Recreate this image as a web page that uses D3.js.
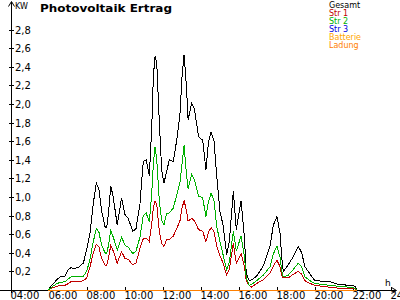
<!DOCTYPE html>
<html><head><meta charset="utf-8">
<script src="https://cdn.jsdelivr.net/npm/d3@7"></script>
<style>
html,body{margin:0;padding:0;background:#fff;}
svg{display:block;}
text{font-family:"DejaVu Sans",sans-serif;}
</style></head>
<body>
<svg id="c" width="400" height="300"></svg>
<script>
// time in decimal hours
const times = [5.96,6.14,6.41,6.58,6.84,7.02,7.16,7.37,7.59,7.81,7.98,8.16,8.33,8.49,8.63,8.77,8.95,9.03,9.12,9.25,9.38,9.59,9.82,10.00,10.17,10.41,10.58,10.79,10.96,11.11,11.28,11.41,11.49,11.58,11.67,11.81,11.93,12.05,12.19,12.33,12.54,12.72,12.89,13.00,13.11,13.23,13.32,13.51,13.66,13.87,14.09,14.26,14.39,14.53,14.68,14.83,15.00,15.16,15.35,15.49,15.70,15.86,16.11,16.29,16.38,16.54,16.67,16.93,17.28,17.63,17.81,18.00,18.16,18.25,18.33,18.59,18.86,19.12,19.30,19.47,19.74,20.00,20.79,21.21,21.84,22.11,22.20];
const gesamt = [0.00,0.05,0.11,0.14,0.15,0.22,0.24,0.23,0.25,0.29,0.43,0.61,0.93,1.15,1.08,0.85,0.68,0.67,0.80,1.12,1.00,0.70,0.99,0.81,0.77,0.63,0.66,0.93,1.38,1.40,1.23,1.76,2.29,2.51,2.45,1.79,1.29,1.15,1.27,1.40,1.38,1.61,1.88,2.29,2.53,2.20,1.83,2.01,1.94,1.65,1.61,1.29,1.59,1.70,1.61,1.22,0.84,0.70,0.38,0.52,1.06,0.65,0.96,0.55,0.18,0.10,0.11,0.15,0.26,0.47,0.70,0.79,0.61,0.35,0.20,0.27,0.36,0.47,0.40,0.25,0.17,0.10,0.09,0.06,0.05,0.04,0.00];
const str2 = [0.00,0.03,0.07,0.08,0.09,0.12,0.14,0.14,0.14,0.15,0.20,0.33,0.52,0.66,0.62,0.48,0.40,0.39,0.47,0.64,0.57,0.43,0.57,0.48,0.46,0.39,0.42,0.57,0.80,0.83,0.73,1.05,1.35,1.54,1.40,0.95,0.75,0.70,0.82,0.83,0.88,1.02,1.15,1.35,1.56,1.25,1.09,1.24,1.18,1.01,0.99,0.79,0.95,1.04,0.97,0.68,0.52,0.38,0.22,0.30,0.63,0.42,0.58,0.36,0.13,0.05,0.06,0.10,0.16,0.25,0.39,0.47,0.35,0.20,0.14,0.16,0.22,0.29,0.25,0.14,0.10,0.07,0.05,0.04,0.03,0.02,0.00];
const str1 = [0.00,0.02,0.04,0.05,0.05,0.07,0.09,0.09,0.09,0.10,0.13,0.25,0.40,0.49,0.46,0.34,0.27,0.26,0.33,0.48,0.42,0.29,0.41,0.34,0.33,0.27,0.29,0.45,0.55,0.56,0.52,0.72,0.88,0.96,0.92,0.62,0.50,0.47,0.54,0.54,0.58,0.66,0.74,0.88,0.96,0.86,0.74,0.77,0.74,0.65,0.63,0.52,0.62,0.67,0.63,0.47,0.37,0.29,0.16,0.22,0.50,0.29,0.39,0.25,0.10,0.05,0.03,0.07,0.11,0.18,0.26,0.32,0.25,0.16,0.13,0.13,0.17,0.20,0.17,0.10,0.07,0.05,0.03,0.02,0.02,0.01,0.00];
const str3 = times.map(() => 0);
const batterie = times.map(() => 0);
const ladung = times.map(() => 0);
const yTicks = [0.2,0.4,0.6,0.8,1.0,1.2,1.4,1.6,1.8,2.0,2.2,2.4,2.6,2.8];
const xTicks = [4,6,8,10,12,14,16,18,20,22,24];
const legendNames = ["Gesamt","Str 1","Str 2","Str 3","Batterie","Ladung"];
const legendColors = ["#000000","#c00000","#00b000","#0000e0","#ffa500","#ff8000"];

const svg = d3.select("#c");
const x = d3.scaleLinear().domain([4,24]).range([11,391]);
const y = d3.scaleLinear().domain([0,3]).range([290,11]);

// title
svg.append("text").attr("x",40).attr("y",12)
  .attr("font-family","DejaVu Sans Mono").attr("font-weight","bold").attr("font-size",11)
  .attr("textLength",132).attr("lengthAdjust","spacingAndGlyphs")
  .text("Photovoltaik Ertrag");

// axes lines with arrows
const ax = svg.append("g").attr("stroke","#000").attr("stroke-width",1).attr("fill","none").attr("shape-rendering","crispEdges");
ax.append("line").attr("x1",11.5).attr("x2",11.5).attr("y1",2).attr("y2",293);
ax.append("path").attr("d","M8.5,6.5 L11.5,1.5 L14.5,6.5").attr("shape-rendering","auto");
ax.append("line").attr("x1",0).attr("x2",396).attr("y1",290.5).attr("y2",290.5);
ax.append("path").attr("d","M391.5,287.5 L396.5,290.5 L391.5,293.5").attr("shape-rendering","auto");

// y axis
const yAxis = svg.append("g").attr("transform","translate(11,0)")
  .call(d3.axisRight(y).tickValues(yTicks).tickSize(3).tickPadding(1)
    .tickFormat(d => d3.format(".1f")(d).replace(".",",")));
yAxis.select(".domain").remove();
yAxis.selectAll(".tick line").attr("x1",-2).attr("x2",3).attr("shape-rendering","crispEdges");
yAxis.selectAll(".tick text").attr("x",4).attr("dy","0.35em")
  .attr("font-family","DejaVu Sans").attr("font-size",10).attr("fill","#000");

// x axis
const xAxis = svg.append("g").attr("transform","translate(0,290)")
  .call(d3.axisBottom(x).tickValues(xTicks).tickSize(0)
    .tickFormat(d => String(d).padStart(2,"0") + ":00"));
xAxis.select(".domain").remove();
xAxis.selectAll(".tick line").attr("y1",-3).attr("y2",0).attr("stroke","#000").attr("shape-rendering","crispEdges");
xAxis.selectAll(".tick text").attr("text-anchor","start").attr("x",-1).attr("y",9).attr("dy",0)
  .attr("font-family","DejaVu Sans").attr("font-size",10).attr("fill","#000");

// unit labels
svg.append("text").attr("x",15).attr("y",9).attr("font-family","DejaVu Sans Mono").attr("font-size",8).text("KW");
svg.append("text").attr("x",385).attr("y",286).attr("font-family","DejaVu Sans Mono").attr("font-size",9).text("h");

// series
const series = [
  {v: gesamt, c: legendColors[0]},
  {v: str1, c: legendColors[1]},
  {v: str2, c: legendColors[2]},
  {v: str3, c: legendColors[3]},
  {v: batterie, c: legendColors[4]},
  {v: ladung, c: legendColors[5]}
];
const line = d3.line().x(d => x(d[0])).y(d => y(d[1]));
const lg = svg.append("g").attr("fill","none").attr("stroke-width",1);
series.forEach(s => {
  lg.append("path").attr("d", line(times.map((t,i) => [t, s.v[i]])))
    .attr("stroke", s.c).attr("shape-rendering","crispEdges");
});

// legend
const leg = svg.append("g");
legendNames.forEach((n,i) => {
  leg.append("text").attr("x",329).attr("y",7.5 + i*8)
    .attr("font-family","DejaVu Sans Mono").attr("font-size",8)
    .attr("fill",legendColors[i]).text(n);
});
</script>
</body></html>
